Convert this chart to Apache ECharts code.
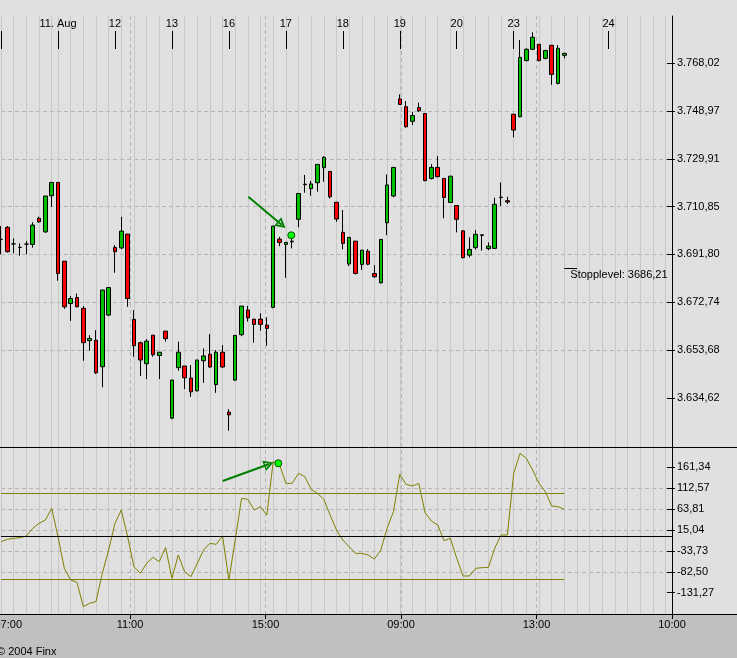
<!DOCTYPE html>
<html><head><meta charset="utf-8">
<script src="https://cdn.jsdelivr.net/npm/echarts@6/dist/echarts.min.js"></script>
<style>html,body{margin:0;padding:0;background:#c0c0c0}#c{width:737px;height:658px}</style>
</head><body><div id="c"></div>
<script>
// ---- data ----
const dayLabels = ['', '11. Aug', '12', '13', '16', '17', '18', '19', '20', '23', '24'];
const dayTickIndex = [0, 9, 18, 27, 36, 45, 54, 63, 72, 81, 96];
const slotCount = 107;
const opens = [3697.8,3702.6,3696.0,3694.6,3695.9,3695.8,3706.2,3700.8,3715.2,3720.5,
3689.1,3672.2,3674.6,3670.3,3657.4,3657.6,3647.0,3667.6,3694.6,3694.4,
3699.9,3665.9,3656.6,3648.2,3659.6,3651.5,3661.2,3626.5,3646.6,3647.3,
3642.5,3637.4,3649.4,3652.0,3639.9,3652.8,3628.9,3641.7,3659.8,3669.6,
3666.0,3666.0,3663.6,3670.7,3697.9,3695.8,3696.8,3705.8,3719.6,3718.0,
3720.4,3726.4,3724.9,3712.6,3700.6,3688.0,3697.1,3687.8,3693.1,3684.2,
3680.5,3704.4,3715.1,3753.8,3750.7,3744.9,3750.4,3748.0,3722.1,3726.5,
3722.1,3712.5,3711.3,3701.2,3691.5,3694.5,3699.6,3694.1,3694.2,3714.5,
3713.2,3747.7,3746.7,3769.1,3773.6,3775.6,3770.0,3775.2,3760.0,3771.2];
const closes = [3697.8,3692.9,3696.0,3694.6,3695.9,3703.5,3704.8,3715.1,3720.5,3684.2,
3670.9,3674.2,3670.9,3656.6,3658.3,3644.6,3677.6,3678.6,3692.9,3701.1,
3674.2,3655.4,3649.7,3657.2,3651.8,3652.8,3658.2,3641.7,3652.8,3642.6,
3637.0,3649.7,3651.3,3646.9,3652.8,3646.9,3627.8,3659.5,3671.2,3666.5,
3663.9,3663.9,3662.3,3703.1,3696.6,3696.6,3697.1,3716.1,3719.8,3719.9,
3727.7,3730.5,3714.8,3705.9,3696.2,3698.6,3684.2,3693.5,3687.9,3682.9,
3697.8,3719.5,3726.5,3751.6,3742.7,3747.2,3749.1,3721.2,3726.5,3722.8,
3714.5,3723.0,3705.8,3690.5,3693.8,3699.8,3699.4,3695.1,3711.8,3714.6,
3712.7,3741.4,3770.4,3773.6,3778.4,3769.1,3773.1,3763.6,3774.0,3772.0];
const lows = [3691.8,3692.5,3692.2,3691.3,3691.9,3694.5,3704.4,3700.4,3710.8,3681.3,
3670.1,3665.3,3670.7,3649.4,3653.4,3644.1,3638.8,3667.2,3684.5,3693.9,
3670.9,3651.0,3643.3,3642.1,3651.0,3642.1,3657.0,3626.1,3645.4,3638.1,
3635.0,3637.2,3640.6,3646.6,3636.6,3646.6,3621.5,3641.3,3659.2,3665.0,
3656.6,3661.4,3655.4,3670.3,3695.1,3682.5,3694.2,3702.6,3716.4,3715.2,
3716.8,3720.8,3714.1,3704.8,3693.8,3687.2,3683.8,3685.6,3687.5,3682.5,
3680.2,3699.5,3714.6,3751.4,3742.4,3743.4,3748.6,3721.0,3721.7,3722.5,
3706.2,3712.3,3700.6,3690.2,3690.6,3693.8,3693.3,3693.5,3694.0,3711.1,
3711.9,3738.5,3746.5,3768.8,3773.3,3768.8,3769.6,3759.4,3759.6,3770.0];
const highs = [3703.1,3703.1,3698.2,3696.2,3697.1,3704.6,3706.9,3715.1,3720.5,3720.5,
3689.1,3675.2,3676.2,3671.2,3659.6,3661.6,3677.6,3678.6,3695.5,3706.8,
3699.9,3669.6,3657.0,3658.0,3659.6,3652.8,3661.2,3641.7,3657.0,3647.3,
3647.7,3649.7,3654.3,3660.0,3653.6,3655.6,3630.1,3659.5,3671.2,3671.3,
3666.0,3668.3,3666.7,3703.1,3698.8,3696.6,3698.2,3716.1,3723.5,3721.1,
3727.7,3731.0,3724.9,3712.6,3709.5,3698.6,3697.1,3693.5,3693.9,3687.5,
3697.8,3723.7,3726.5,3755.6,3753.0,3748.6,3752.3,3748.0,3727.8,3731.0,
3722.1,3723.0,3711.3,3701.5,3698.6,3701.5,3699.8,3696.6,3714.4,3720.5,
3714.8,3747.9,3777.3,3774.0,3780.4,3775.6,3773.4,3775.2,3775.3,3772.1];
const cci = [-12.2,-6.8,-4.4,-2.9,1.0,18.9,30.6,38.3,65.6,-0.5,
-74.4,-101.7,-107.1,-163.9,-156.1,-152.2,-86.1,-31.7,30.6,61.7,
-0.5,-70.6,-86.1,-62.8,-48.8,-58.9,-25.4,-97.8,-43.3,-82.2,
-93.9,-62.8,-31.7,-16.1,-18.4,1.0,-101.7,-8.3,88.9,86.5,
61.7,69.5,50.0,174.5,168.0,123.9,123.9,147.3,139.5,109.9,
100.6,86.5,50.0,15.0,-8.3,-23.9,-39.4,-39.4,-43.3,-52.7,
-31.7,18.9,57.8,144.9,121.6,117.7,123.9,55.4,36.0,26.7,
-9.9,-4.4,-51.1,-92.3,-92.3,-74.4,-72.9,-72.1,-27.8,3.3,
3.3,147.3,193.9,182.3,155.0,123.9,104.5,71.0,69.5,63.2];
const priceTicks = [3634.62, 3653.68, 3672.74, 3691.80, 3710.85, 3729.91, 3748.97, 3768.02];
const cciTicks = [-131.27, -82.50, -33.73, 15.04, 63.81, 112.57, 161.34];
const timeLabels = ['07:00', '11:00', '15:00', '09:00', '13:00', '10:00'];
const timeTicks = [0, 1, 2, 3, 4, 5];
const stopLevel = 3686.21;
const stopFrom = 89, stopTo = 91;
const cciBands = [100, -100];
const priceArrow = [[39.07, 3714.82], [44.33, 3703.66]];
const priceDot = [45.86, 3699.43];
const cciArrow = [[35.02, 129.37], [42.31, 168.6]];
const cciDot = [43.81, 170.68];
const copyright = '\u00a9 2004 Finx';

// ---- helpers ----
function de(v, thousands) {
  const s = Number(v).toFixed(2).split('.');
  let a = s[0];
  if (thousands) a = a.replace(/\B(?=(\d{3})+(?!\d))/g, '.');
  return a + ',' + s[1];
}
const FONT = 'Liberation Sans, Arial, sans-serif';
const cats = [];
for (let i = 0; i < slotCount; i++) cats.push('s' + i);
const isDay = (idx) => dayTickIndex.indexOf(idx) >= 0;
const isGrid = (idx) => idx < 9 ? idx % 2 === 0 : idx % 2 === 1;
const candleData = opens.map((o, i) => [i, o, closes[i], lows[i], highs[i]]);
const cciData = cci.map((v, i) => [i, v]);
const hollowTri = 'path://M5,0 L10,10 L0,10 Z M5,3.8 L2.6,8.6 L7.4,8.6 Z';
const arrowColor = '#008000';

const L = 1.04, R = 737 - (1.04 + 106 * 6.329);
const dashed = { color: '#b4b4b4', width: 1, type: [4, 3] };
const hiddenY = (g) => ({ type: 'value', gridIndex: g, show: false, min: 0, max: 1, axisLine: { onZero: false } });
const noBounds = { outerBoundsMode: 'none', containLabel: false };

const chart = echarts.init(document.getElementById('c'));
chart.setOption({
  animation: false,
  backgroundColor: '#c0c0c0',
  textStyle: { fontFamily: FONT, fontSize: 11 },
  title: { text: copyright, left: -3, top: 646, padding: 0,
    textStyle: { fontSize: 11, fontWeight: 'normal', color: '#000', fontFamily: FONT } },
  grid: [
    Object.assign({ left: L, right: R, top: 16, bottom: 211 }, noBounds),
    Object.assign({ left: L, right: R, top: 447, bottom: 44 }, noBounds),
    Object.assign({ left: -5.5, right: 0, top: 16, bottom: 44 }, noBounds),
    Object.assign({ left: 0, right: 0, top: 0, bottom: 44, show: true, backgroundColor: '#e0e0e0', borderWidth: 0 }, noBounds),
    Object.assign({ left: 0, right: 0, top: 16, bottom: 211 }, noBounds)
  ],
  xAxis: [
    { type: 'category', gridIndex: 0, data: cats, boundaryGap: false, position: 'top', offset: -33,
      axisLine: { show: false },
      axisTick: { show: true, interval: isDay, length: 18, lineStyle: { color: '#000', width: 1 } },
      axisLabel: { show: true, interval: isDay, margin: 20, fontSize: 11, color: '#000', fontFamily: FONT,
        formatter: (v, idx) => { const k = dayTickIndex.indexOf(idx); return k >= 0 ? dayLabels[k] : ''; } },
      splitLine: { show: true, interval: isGrid, lineStyle: { color: '#c8c8c8', width: 1 } } },
    { type: 'value', gridIndex: 0, min: 0, max: 106, show: false },
    { type: 'category', gridIndex: 1, data: cats, boundaryGap: false,
      axisLine: { show: false }, axisTick: { show: false }, axisLabel: { show: false },
      splitLine: { show: true, interval: isGrid, lineStyle: { color: '#c8c8c8', width: 1 } } },
    { type: 'value', gridIndex: 1, min: 0, max: 106, show: false },
    { type: 'value', gridIndex: 2, min: 0, max: 742.5 / 135.5, position: 'bottom',
      axisLine: { show: true, onZero: false, lineStyle: { color: '#000', width: 1 } },
      axisTick: { show: true, length: 5, customValues: timeTicks, lineStyle: { color: '#000', width: 1 } },
      axisLabel: { show: true, customValues: timeTicks, margin: 5, fontSize: 11, color: '#000', fontFamily: FONT,
        alignMinLabel: 'left', showMinLabel: true,
        formatter: (v) => { const k = Math.round(v); return Math.abs(v - k) < 1e-6 && timeLabels[k] ? timeLabels[k] : ''; } },
      splitLine: { show: true, showMinLine: false, showMaxLine: false, lineStyle: dashed } },
    { type: 'value', gridIndex: 3, show: false, min: 0, max: 1 },
    { type: 'value', gridIndex: 4, min: 0, max: 1,
      axisLine: { show: true, onZero: false, lineStyle: { color: '#000', width: 1 } },
      axisTick: { show: false }, axisLabel: { show: false }, splitLine: { show: false } }
  ],
  yAxis: [
    { type: 'value', gridIndex: 0, position: 'right', min: 3615.00, max: 3786.88,
      axisLine: { show: true, onZero: false, lineStyle: { color: '#000', width: 1 } },
      axisTick: { show: true, length: 3, customValues: priceTicks, lineStyle: { color: '#000' } },
      axisLabel: { show: true, customValues: priceTicks, margin: 5, fontSize: 11, color: '#000', fontFamily: FONT,
        formatter: (v) => de(v, true) },
      splitLine: { show: true, showMinLine: false, showMaxLine: false, lineStyle: dashed } },
    { type: 'value', gridIndex: 0, position: 'right', min: 3615.00, max: 3786.88,
      axisLine: { show: false, onZero: false },
      axisTick: { show: true, inside: true, length: 5, customValues: priceTicks, lineStyle: { color: '#000' } },
      axisLabel: { show: false }, splitLine: { show: false } },
    { type: 'value', gridIndex: 1, position: 'right', min: -180.97, max: 208.71,
      axisLine: { show: true, onZero: false, lineStyle: { color: '#000', width: 1 } },
      axisTick: { show: true, length: 3, customValues: cciTicks, lineStyle: { color: '#000' } },
      axisLabel: { show: true, customValues: cciTicks, margin: 5, fontSize: 11, color: '#000', fontFamily: FONT,
        formatter: (v) => de(v, false) },
      splitLine: { show: true, showMinLine: false, showMaxLine: false, lineStyle: dashed } },
    { type: 'value', gridIndex: 1, position: 'right', min: -180.97, max: 208.71,
      axisLine: { show: false, onZero: false },
      axisTick: { show: true, inside: true, length: 5, customValues: cciTicks, lineStyle: { color: '#000' } },
      axisLabel: { show: false }, splitLine: { show: false } },
    hiddenY(2), hiddenY(3), hiddenY(4)
  ],
  series: [
    { type: 'candlestick', xAxisIndex: 1, yAxisIndex: 0, data: candleData,
      encode: { x: 0, y: [1, 2, 3, 4] }, barWidth: 4, clip: false, silent: true,
      itemStyle: { color: '#00c000', color0: '#ff0000', borderColor: '#000', borderColor0: '#000', borderWidth: 1 },
      markLine: { silent: true, symbol: 'none', label: { show: false },
        data: [
          [ { coord: [stopFrom, stopLevel], lineStyle: { color: '#000', width: 1, type: 'solid' },
              label: { show: true, position: 'insideStartBottom', distance: [6, 1], color: '#000', fontSize: 11,
                fontFamily: FONT, formatter: 'Stopplevel: ' + de(stopLevel, false) } },
            { coord: [stopTo, stopLevel] } ],
          [ { coord: priceArrow[0], symbol: 'none', lineStyle: { color: arrowColor, width: 2, type: 'solid' } },
            { coord: priceArrow[1], symbol: hollowTri, symbolSize: [11, 10] } ]
        ] },
      markPoint: { silent: true, data: [ { coord: priceDot, symbol: 'circle', symbolSize: 7,
        itemStyle: { color: '#00ff00', borderColor: '#005000', borderWidth: 1 }, label: { show: false } } ] }
    },
    { type: 'line', xAxisIndex: 3, yAxisIndex: 2, data: cciData, symbol: 'none', silent: true,
      lineStyle: { color: '#808000', width: 1 },
      markLine: { silent: true, symbol: 'none', label: { show: false },
        data: [
          { yAxis: 0, lineStyle: { color: '#000', width: 1, type: 'solid' } },
          [ { coord: [0, cciBands[0]], lineStyle: { color: '#808000', width: 1, type: 'solid' } }, { coord: [cci.length - 1, cciBands[0]] } ],
          [ { coord: [0, cciBands[1]], lineStyle: { color: '#808000', width: 1, type: 'solid' } }, { coord: [cci.length - 1, cciBands[1]] } ],
          [ { coord: cciArrow[0], symbol: 'none', lineStyle: { color: arrowColor, width: 2, type: 'solid' } },
            { coord: cciArrow[1], symbol: hollowTri, symbolSize: [11, 10] } ]
        ] },
      markPoint: { silent: true, data: [ { coord: cciDot, symbol: 'circle', symbolSize: 7,
        itemStyle: { color: '#00ff00', borderColor: '#005000', borderWidth: 1 }, label: { show: false } } ] }
    }
  ]
});
</script></body></html>
